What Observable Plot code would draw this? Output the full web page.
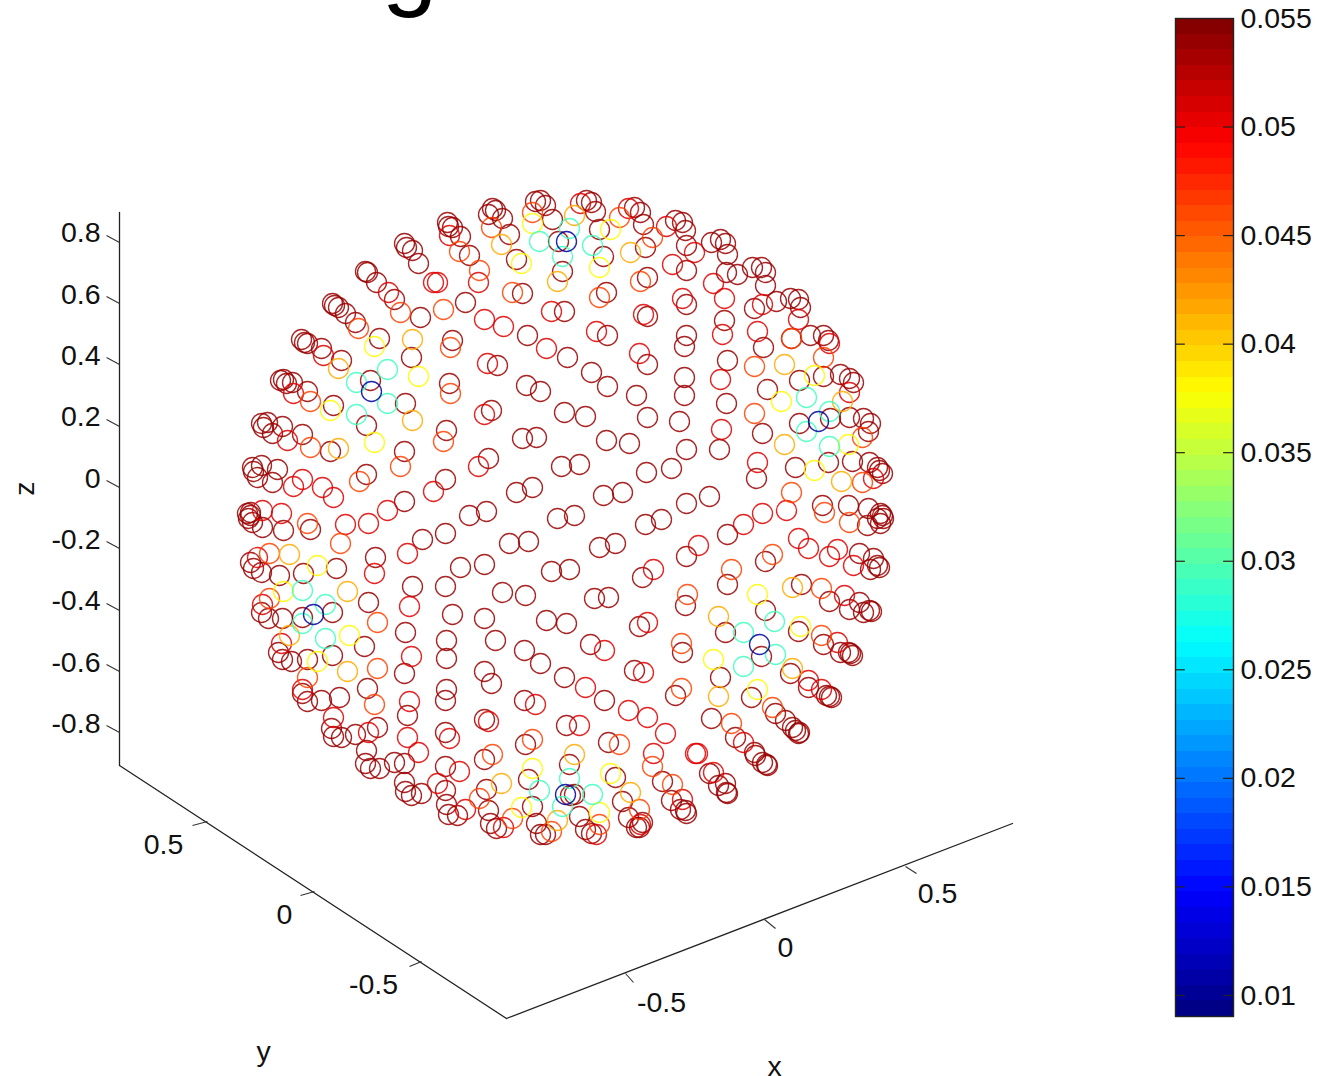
<!DOCTYPE html>
<html><head><meta charset="utf-8">
<script src="https://cdn.jsdelivr.net/npm/d3@7"></script>
<script src="https://cdn.jsdelivr.net/npm/@observablehq/plot@0.6"></script>
<style>
html,body{margin:0;padding:0;background:#fff}
#page{position:relative;width:1324px;height:1076px;overflow:hidden}
#page svg{position:absolute;top:0;background:none;overflow:visible}
</style></head><body><div id="page"></div>
<script>
// Points in projected view units, one list per colour level
const levelDark = [[301,339],[304,342],[307,343],[321,348],[341,360],[332,303],[334,305],[338,307],[345,313],[355,322],[379,338],[365,271],[367,272],[376,282],[394,299],[420,317],[411,357],[404,243],[406,247],[412,250],[418,263],[465,302],[447,222],[448,226],[452,227],[460,236],[469,255],[522,293],[452,340],[492,208],[495,210],[488,214],[502,218],[509,234],[516,259],[562,271],[527,335],[564,311],[535,201],[540,200],[545,205],[552,219],[558,241],
[586,200],[591,202],[595,211],[599,229],[603,256],[634,207],[640,212],[643,224],[645,247],[647,277],[606,292],[647,316],[607,335],[567,357],[675,220],[682,222],[685,230],[686,245],[686,270],[686,304],[686,335],[684,346],[711,242],[720,239],[725,243],[727,254],[726,272],[737,274],[724,320],[752,267],[761,267],[765,272],[765,285],[754,308],[776,301],[790,298],[798,299],[800,307],[763,347],[810,335],[823,335],[828,340],[727,360],[791,338],
[370,380],[405,403],[366,425],[333,405],[307,391],[292,382],[280,380],[283,379],[286,383],[449,383],[497,365],[526,385],[540,391],[491,410],[564,412],[446,430],[522,438],[536,437],[261,423],[267,422],[263,427],[272,433],[282,426],[302,434],[330,451],[404,451],[488,458],[561,466],[366,474],[445,479],[516,492],[532,487],[252,467],[253,471],[261,465],[257,477],[277,469],[272,482],[404,501],[486,511],[469,515],[250,512],[557,518],
[247,513],[250,515],[248,518],[252,522],[262,527],[283,530],[310,529],[422,539],[445,533],[509,543],[528,541],[375,557],[460,567],[484,564],[551,571],[569,569],[250,562],[253,568],[261,572],[279,575],[303,573],[336,568],[261,612],[268,618],[282,618],[302,617],[332,612],[368,602],[412,586],[405,632],[445,586],[452,614],[502,592],[525,595],[484,618],[546,620],[566,623],[364,646],[278,652],[282,659],[291,661],[307,659],[332,655],[446,640],[446,658],[495,640],[524,650],[540,663],[404,673],[564,677],[484,671],[491,683],
[302,693],[307,701],[321,700],[339,697],[367,688],[407,715],[446,689],[445,700],[524,700],[331,728],[333,736],[341,737],[355,734],[377,727],[445,732],[484,719],[566,725],[366,750],[365,763],[370,768],[379,768],[394,762],[404,763],[445,766],[525,744],[484,759],[528,779],[404,782],[405,791],[411,795],[421,793],[445,790],[486,789],[570,795],[446,804],[448,814],[457,815],[488,810],[532,806],[490,823],[496,828],[536,823],[540,834],[545,834],
[591,372],[607,386],[647,364],[636,395],[684,377],[684,395],[726,403],[799,380],[823,376],[840,374],[849,378],[853,382],[767,389],[762,433],[799,423],[830,418],[849,417],[863,418],[870,423],[868,431],[852,461],[828,462],[869,462],[877,467],[882,473],[879,470],[795,467],[756,478],[822,505],[848,505],[868,508],[882,515],[719,449],[679,421],[686,449],[647,417],[606,440],[629,443],[585,416],[646,472],[671,468],[579,464],[603,495],[622,492],[686,503],[709,496],[574,515],
[645,524],[661,519],[867,525],[880,513],[883,518],[880,523],[877,518],[727,534],[859,553],[870,569],[873,558],[877,565],[879,567],[599,547],[615,543],[686,556],[765,561],[727,584],[642,577],[801,584],[829,601],[849,609],[859,602],[863,612],[869,610],[871,611],[685,605],[594,598],[608,597],[765,610],[725,632],[761,656],[798,631],[823,644],[840,652],[848,652],[852,655],[850,653],[639,626],[590,644],[682,652],[720,677],[634,670],[790,673],
[604,700],[675,695],[711,718],[751,697],[775,713],[785,720],[792,727],[795,730],[799,732],[798,733],[808,687],[826,695],[829,696],[831,697],[735,737],[754,752],[755,755],[762,762],[766,764],[767,765],[608,742],[662,781],[671,800],[680,809],[685,810],[686,813],[709,773],[718,785],[725,783],[726,792],[727,793],[615,777],[622,801],[628,817],[642,822],[636,827],[639,827],[569,764],[574,794],[579,816],[585,829],[591,833]];
const levelRed = [[323,355],[388,292],[433,282],[437,282],[449,235],[478,282],[484,319],[503,326],[546,348],[551,311],[580,203],[628,208],[643,314],[596,331],[666,226],[694,252],[672,264],[682,298],[713,283],[724,298],[722,334],[762,304],[798,319],[757,331],[829,343],[639,353],[293,393],[487,363],[484,414],[287,440],[478,466],[433,491],[293,486],[302,479],[322,487],[333,497],[387,510],[262,510],[281,513],[345,524],[368,523],[407,553],[374,573],[257,557],[262,604],[409,606],[281,643],[411,656],[302,689],[409,701],[333,717],[368,732],[407,737],[418,752],[449,738],[488,721],[459,771],[437,783],[465,809],[535,704],[503,827],[721,429],[720,379],[849,392],[757,462],[873,478],[762,513],[786,510],[743,524],[798,538],[808,548],[829,556],[837,549],[853,565],[844,595],[698,545],[653,569],[837,642],[647,622],[604,650],[585,687],[628,710],[647,717],[643,672],[579,725],[665,733],[808,680],[821,689],[743,742],[653,753],[682,799],[695,753],[697,753],[713,772],[640,824],[596,834]];
const levelOrangeRed = [[358,328],[400,312],[443,309],[459,251],[479,270],[512,292],[450,347],[491,227],[532,212],[619,217],[652,237],[640,281],[599,297],[823,357],[791,338],[310,401],[450,393],[443,441],[310,447],[400,466],[359,481],[307,523],[340,543],[269,553],[269,598],[377,622],[307,677],[377,668],[374,704],[532,739],[492,754],[479,798],[512,818],[551,831],[754,366],[754,413],[862,437],[862,482],[791,492],[824,512],[849,522],[772,554],[731,569],[821,588],[687,594],[821,635],[681,643],[619,744],[681,688],[731,723],[772,707],[652,766],[672,784],[639,809],[599,824]];
const levelOrange = [[412,339],[501,244],[557,281],[574,215],[630,252],[338,368],[412,420],[338,448],[289,554],[347,591],[289,635],[347,671],[501,783],[557,820],[784,364],[842,401],[784,444],[841,481],[792,587],[718,616],[792,668],[718,696],[630,792],[574,754]];
const levelYellow = [[374,346],[521,263],[532,223],[610,229],[599,267],[418,376],[330,410],[374,442],[317,565],[283,591],[349,635],[317,661],[532,768],[521,807],[814,375],[781,401],[848,444],[814,470],[757,594],[800,626],[713,659],[757,689],[610,773],[599,812]];
const levelAqua = [[539,241],[569,228],[592,245],[562,256],[387,369],[356,382],[387,403],[356,414],[302,590],[302,623],[325,604],[325,638],[539,790],[562,806],[569,778],[592,794],[806,397],[829,411],[806,431],[829,446],[774,621],[743,632],[775,654],[743,666]];
const levelNavy = [[566,241],[371,391],[313,614],[818,421],[759,644],[565,794]];

const levelGroups = [[0.0538,levelDark],[0.0507,levelRed],[0.0463,levelOrangeRed],[0.0415,levelOrange],[0.0380,levelYellow],[0.0291,levelAqua],[0.0104,levelNavy]];
const points = levelGroups.flatMap(([v, pts]) => pts.map(([u, w]) => ({u, w, v})));

// Axes
const zAxisLine = [[119,212],[119,765]];
const yAxisLine = [[119,765],[506,1018]];
const xAxisLine = [[506,1018],[1012,823]];
const zLabels = ["0.8","0.6","0.4","0.2","0","-0.2","-0.4","-0.6","-0.8"];
const zTickY = [242,303,364,426,487,548,610,671,732];
const zLabelY = [232,294,355,416,478,539,600,662,723];
const yLabels = ["0.5","0","-0.5"];
const yTicks = [[207,821,192,825],[314,891,300,895],[421,961,409,966]];
const yLabelPos = [[163,844],[284,914],[373,984]];
const xLabels = ["-0.5","0","0.5"];
const xTicks = [[625,973,633,982],[764,919,775,928],[905,866,916,873]];
const xLabelPos = [[661,1002],[785,947],[937,893]];

// Colour bar
const barTicks = [0.055,0.05,0.045,0.04,0.035,0.03,0.025,0.02,0.015,0.01];
const barLow = 0.00903, barHigh = 0.055, barSteps = 64;

const jet = {
  type: "linear",
  domain: [0,0.125,0.375,0.625,0.875,1].map(t => barLow + t*(barHigh-barLow)),
  range: ["#00007f","#0000ff","#00ffff","#ffff00","#ff0000","#7f0000"],
  interpolate: "rgb", clamp: true
};
const font = {fontFamily:"Liberation Sans, Arial, sans-serif", fontSize:28.5, fill:"#111"};
const axis = {x:d=>d[0], y:d=>d[1], stroke:"#222", strokeWidth:1.3};
const tickSegs = a => ({x1:d=>a[d][0], y1:d=>a[d][1], x2:d=>a[d][2], y2:d=>a[d][3], stroke:"#333", strokeWidth:1.1});

const main = Plot.plot({
  width:1324, height:1076, margin:0,
  x:{domain:[0,1324], range:[0,1324], axis:null},
  y:{domain:[0,1076], range:[0,1076], axis:null},
  color:jet,
  marks:[
    Plot.text(["g"],{x:[409],y:[-4],text:d=>d,fontSize:100,fill:"#000",lineAnchor:"bottom",fontFamily:"Liberation Sans, Arial, sans-serif"}),
    Plot.line(zAxisLine,axis), Plot.line(yAxisLine,axis), Plot.line(xAxisLine,axis),
    Plot.link(d3.range(zLabels.length),{x1:()=>106,y1:i=>zTickY[i]-7,x2:()=>119,y2:i=>zTickY[i],stroke:"#333",strokeWidth:1.1}),
    Plot.link(d3.range(3),tickSegs(yTicks)),
    Plot.link(d3.range(3),tickSegs(xTicks)),
    Plot.text(zLabels,{x:()=>100,y:(d,i)=>zLabelY[i],text:d=>d,textAnchor:"end",...font}),
    Plot.text(yLabels,{x:(d,i)=>yLabelPos[i][0],y:(d,i)=>yLabelPos[i][1],text:d=>d,...font}),
    Plot.text(xLabels,{x:(d,i)=>xLabelPos[i][0],y:(d,i)=>xLabelPos[i][1],text:d=>d,...font}),
    Plot.text(["z"],{x:[24],y:[488],text:d=>d,rotate:-90,...font}),
    Plot.text(["y"],{x:[263],y:[1051],text:d=>d,...font}),
    Plot.text(["x"],{x:[774],y:[1066],text:d=>d,...font}),
    Plot.dot(points,{x:"u",y:"w",r:10,stroke:"v",strokeWidth:1.35,strokeOpacity:0.85,fill:"none"})
  ]
});

const edges = d3.range(barSteps).map(i => ({
  lo: barLow + i*(barHigh-barLow)/barSteps,
  hi: barLow + (i+1)*(barHigh-barLow)/barSteps,
  mid: barLow + (i+0.5)*(barHigh-barLow)/barSteps
}));
const bar = Plot.plot({
  width:164, height:1076, marginLeft:15, marginRight:91, marginTop:18, marginBottom:60,
  x:{domain:[0,1], axis:null},
  y:{domain:[barLow,barHigh], axis:null},
  color:jet,
  marks:[
    Plot.rect(edges,{x1:()=>0,x2:()=>1,y1:"lo",y2:"hi",fill:"mid",shapeRendering:"crispEdges"}),
    Plot.ruleY(barTicks.slice(1),{x1:()=>0,x2:()=>0.17,stroke:"#222",strokeWidth:1.2}),
    Plot.ruleY(barTicks.slice(1),{x1:()=>0.83,x2:()=>1,stroke:"#222",strokeWidth:1.2}),
    Plot.frame({stroke:"#222",strokeWidth:1.4}),
    Plot.text(barTicks,{x:()=>1,y:d=>d,dx:7,text:d=>String(d),textAnchor:"start",...font})
  ]
});
bar.style.left = "1160px"; main.style.left = "0";
document.getElementById("page").append(main, bar);
</script></body></html>
